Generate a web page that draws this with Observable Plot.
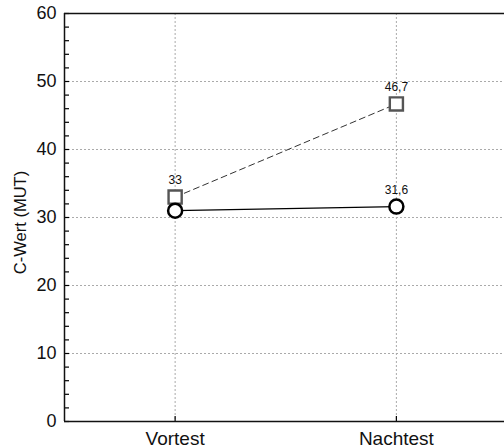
<!DOCTYPE html>
<html>
<head>
<meta charset="utf-8">
<script src="https://cdn.jsdelivr.net/npm/d3@7"></script>
<script src="https://cdn.jsdelivr.net/npm/@observablehq/plot@0.6"></script>
<style>
  html, body { margin: 0; padding: 0; background: #fff; overflow: hidden; }
  svg { display: block; }
</style>
</head>
<body>
<div id="chart"></div>
<script>
const categories = ["Vortest", "Nachtest"];
const squareValues = [33, 46.7];
const circleValues = [31, 31.6];
const squareLabels = ["33", "46,7"];
const circleLabels = ["", "31,6"];
const yMajorTicks = [0, 10, 20, 30, 40, 50, 60];
const yMinorTicks = d3.range(0, 61, 2);
const gridValues = [10, 20, 30, 40, 50];
const yTitle = "C-Wert (MUT)";

const squareData = categories.map((c, i) => ({i, v: squareValues[i], label: squareLabels[i]}));
const circleData = categories.map((c, i) => ({i, v: circleValues[i], label: circleLabels[i]}));

const font = "'Liberation Sans', Arial, sans-serif";

const chart = Plot.plot({
  width: 504,
  height: 448,
  marginLeft: 64,
  marginRight: 0,
  marginTop: 13,
  marginBottom: 27,
  style: {fontFamily: font, background: "white"},
  x: {type: "linear", domain: [-0.5, 1.5], range: [64, 506.5]},
  y: {domain: [0, 60], range: [421, 13]},
  marks: [
    Plot.ruleY(gridValues, {stroke: "#aaa", strokeDasharray: "2,2", strokeWidth: 1}),
    Plot.ruleX([0, 1], {stroke: "#aaa", strokeDasharray: "2,2", strokeWidth: 1}),
    Plot.tickY(yMinorTicks, {y: d => d, stroke: "#000", strokeWidth: 1.2, insetRight: 435}),
    Plot.tickX([0, 1], {x: d => d, stroke: "#000", strokeWidth: 1.2, insetTop: 403}),
    Plot.axisY({ticks: yMajorTicks, tickSize: 0, tickPadding: 8, fontSize: 18, fill: "#111", label: null}),
    Plot.axisX({ticks: [0, 1], tickSize: 0, tickPadding: 10, fontSize: 19, fill: "#111", tickFormat: i => categories[i], label: null}),
    Plot.ruleY([0, 60], {stroke: "#111", strokeWidth: 1.5}),
    Plot.ruleX([-0.5], {stroke: "#111", strokeWidth: 1.5}),
    Plot.line(squareData, {x: "i", y: "v", stroke: "#333", strokeDasharray: "6,4", strokeWidth: 1}),
    Plot.line(circleData, {x: "i", y: "v", stroke: "#000", strokeWidth: 1.2}),
    Plot.dot(squareData, {x: "i", y: "v", symbol: "square", r: 7.4, stroke: "#555", strokeWidth: 2.4, fill: "white"}),
    Plot.dot(circleData, {x: "i", y: "v", r: 7, stroke: "#000", strokeWidth: 2.5, fill: "white"}),
    Plot.text(squareData, {x: "i", y: "v", text: "label", dy: -16.5, fontSize: 12, fill: "#111"}),
    Plot.text(circleData, {x: "i", y: "v", text: "label", dy: -16, fontSize: 12, fill: "#111"}),
    Plot.text([yTitle], {frameAnchor: "left", textAnchor: "middle", rotate: -90, dx: -44, dy: 5, fontSize: 16.5, fill: "#111"})
  ]
});
document.getElementById("chart").appendChild(chart);
</script>
</body>
</html>
